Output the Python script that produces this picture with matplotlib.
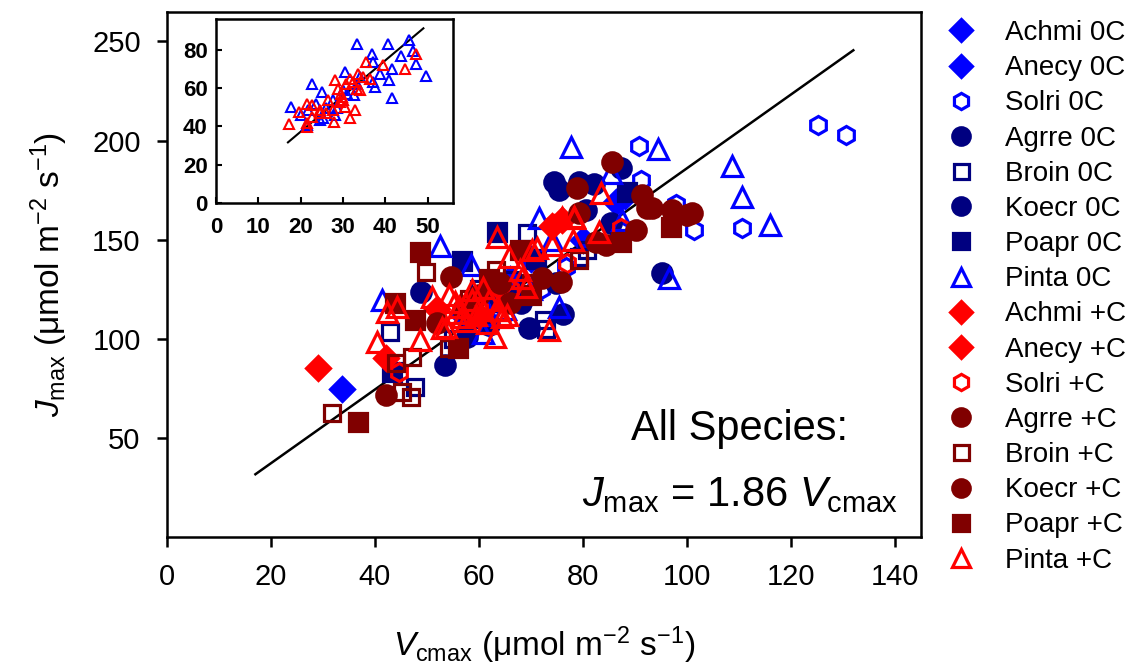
import numpy as np
import matplotlib
matplotlib.use("Agg")
import matplotlib.pyplot as plt

plt.rcParams['font.family'] = ['Liberation Sans', 'DejaVu Sans']
plt.rcParams['mathtext.fontset'] = 'custom'
plt.rcParams['mathtext.rm'] = 'Liberation Sans'
plt.rcParams['mathtext.it'] = 'Liberation Sans:italic'
plt.rcParams['axes.unicode_minus'] = False

# --- data (Vcmax, Jmax) ---
achmi_0 = [(33.6, 74.7), (86.4, 169), (62, 124), (70, 140)]
anecy_0 = [(88, 172), (57, 112), (66, 130), (80, 150)]
solri_0 = [(125.3, 208), (130.5, 203), (110.6, 156), (101.3, 155), (97.9, 168),
           (90.8, 197), (91.2, 180), (87, 155), (76.8, 136), (72, 125)]
agrre_0 = [(74.5, 179), (75.4, 175), (79.3, 179), (82.1, 178), (87.3, 186),
           (48.9, 123.7), (53.4, 86.9), (69.7, 105.6)]
broin_0 = [(42.8, 103.5), (47.6, 75.8), (69.3, 153.5), (72.9, 105), (66.4, 129.8),
           (79.3, 141), (72.6, 109.6), (80.8, 145), (58, 110), (62, 118), (60, 125), (55, 100)]
koecr_0 = [(80.6, 165), (85.4, 158.6), (95.2, 133), (76.2, 112.5), (74.9, 128),
           (57.6, 101), (62, 107), (64, 120), (68, 118)]
poapr_0 = [(63.5, 154), (56.8, 139), (43.2, 83.3), (88.5, 174), (66, 122), (71, 140)]
pinta_0 = [(94.4, 195.5), (108.6, 187), (110.6, 171.7), (115.9, 157.6), (77.7, 196.5),
           (85.4, 183.8), (96.5, 130.8), (75.4, 116), (87.5, 160), (52.5, 147),
           (41.3, 119.7), (58.5, 137.4), (71.6, 161), (60.7, 103), (65, 115),
           (70, 125), (62, 112), (74, 150)]
achmi_c = [(29, 85.4), (63.9, 126), (58, 118)]
anecy_c = [(42.2, 90.4), (76, 160), (74, 157), (52, 115), (60, 112)]
solri_c = [(44.7, 83), (77, 138), (74.5, 158), (87.3, 156), (60, 115), (66, 125)]
agrre_c = [(42.2, 71.7), (54.7, 131), (75.8, 128.8), (72.2, 130.8), (92.3, 166),
           (97.1, 165), (100, 162.6), (85.6, 189)]
broin_c = [(31.7, 62.6), (49.9, 133.8), (44.1, 87.9), (45.1, 73.2), (47, 70.7),
           (47.2, 90.9), (79.3, 139.9), (63.3, 134.8), (54.3, 95.5), (70, 128), (58, 120)]
koecr_c = [(82.5, 149), (84.5, 147.5), (90.2, 155), (79.3, 163.6), (78.9, 176),
           (91.4, 172.7), (93.3, 166), (101, 163.6), (60, 122), (64, 128), (66, 118),
           (52, 108), (57, 115)]
poapr_c = [(36.7, 58), (48.6, 144), (43.8, 118), (47.6, 109.6), (55.9, 95.5),
           (67.8, 145), (96.9, 156.6), (87.3, 149), (62, 130), (70, 122)]
pinta_c = [(40.3, 98.5), (42.4, 113.6), (44.3, 116), (48.6, 99.5), (50.9, 121),
           (52.8, 105.6), (55.3, 118.7), (58.7, 119.7), (60.7, 114.6), (63.3, 114.6),
           (64.5, 111), (63, 101), (65.8, 141), (67.8, 134.8), (68.3, 130.8), (69, 126),
           (70.2, 145), (74.1, 147.5), (73.5, 104.5), (63.5, 151.5), (71.2, 146),
           (78.3, 161), (83.1, 154), (76, 161), (78, 150), (54.3, 122), (56.2, 116),
           (58.7, 124.7), (60.7, 125.8), (62, 119.7), (63.9, 114.6), (53.7, 106),
           (56.8, 111), (65.3, 112), (83.5, 173.7), (78.3, 161.6), (57.5, 109),
           (59.5, 112), (61.5, 108), (55.5, 113)]

# inset (Pinta only)
inset_0 = [(33.4, 83.2), (40.6, 83.2), (45.6, 85.2), (46.5, 79.3), (47.3, 72.4),
           (49.7, 66.3), (43.6, 76.7), (41.5, 70.1), (40.8, 64), (41.5, 55),
           (36.9, 78), (37.1, 73.6), (37.5, 60.3), (38.7, 67.5), (37.1, 63.2),
           (32.6, 56.3), (33.2, 62.3), (30.4, 68.4), (31, 57.1), (25.1, 58),
           (22.6, 62.3), (23.7, 51.9), (21.8, 48.4), (17.7, 50.2), (20.2, 45.8),
           (26.1, 49.3), (27.7, 53.6), (28.1, 45.8), (25.3, 44.1), (24.5, 43.3),
           (21.4, 40.6), (28.5, 49.3), (30, 58.9), (34, 65.8)]
inset_c = [(17.3, 41.1), (19.6, 47.6), (21.4, 51.9), (22.6, 51), (21.4, 41.5),
           (24.5, 48.4), (26.5, 53.6), (27.9, 42.3), (28.1, 64.1), (28.9, 59.7),
           (29.7, 55.4), (30, 53.6), (30.4, 50.2), (29.2, 52.8), (30.8, 62.3),
           (31.6, 64.9), (32.4, 63.2), (33.6, 67.5), (34, 58.9), (32.8, 48.4),
           (31.6, 44.1), (35.5, 73.6), (36.3, 64.9), (39.5, 71.9), (44.6, 70.1),
           (47.3, 78), (27.7, 48.4), (24.5, 46.7), (26.1, 46.7), (22.6, 45),
           (21.4, 39.8), (29.6, 57.1), (33.2, 59.7), (34.8, 65.8)]

slope = 1.86
fit_x = [17, 132]
inset_fit_x = [17, 49]

blue, navy, red, maroon = '#0000FF', '#000080', '#FF0000', '#800000'

# label, data, marker, color, filled, size
series = [
    ('Achmi 0C', achmi_0, 'D', blue, True, 12),
    ('Anecy 0C', anecy_0, 'D', blue, True, 12),
    ('Solri 0C', solri_0, 'h', blue, False, 13),
    ('Agrre 0C', agrre_0, 'o', navy, True, 14),
    ('Broin 0C', broin_0, 's', navy, False, 12),
    ('Koecr 0C', koecr_0, 'o', navy, True, 14),
    ('Poapr 0C', poapr_0, 's', navy, True, 13),
    ('Pinta 0C', pinta_0, '^', blue, False, 14),
    ('Achmi +C', achmi_c, 'D', red, True, 12),
    ('Anecy +C', anecy_c, 'D', red, True, 12),
    ('Solri +C', solri_c, 'h', red, False, 13),
    ('Agrre +C', agrre_c, 'o', maroon, True, 14),
    ('Broin +C', broin_c, 's', maroon, False, 12),
    ('Koecr +C', koecr_c, 'o', maroon, True, 14),
    ('Poapr +C', poapr_c, 's', maroon, True, 13),
    ('Pinta +C', pinta_c, '^', red, False, 14),
]

fig = plt.figure(figsize=(11.44, 6.67), dpi=100)
ax = fig.add_axes([0.146, 0.195, 0.659, 0.7875])

ax.plot(fit_x, [slope * v for v in fit_x], color='black', lw=1.8, zorder=2)

for lab, pts, mk, col, filled, ms in series:
    a = np.array(pts)
    ax.plot(a[:, 0], a[:, 1], ls='none', marker=mk, ms=ms, mew=2.3,
            mec=col, mfc=col if filled else 'none', label=lab, zorder=3)

ax.set_xlim(0, 145)
ax.set_ylim(0, 265)
ax.set_xticks(np.arange(0, 141, 20))
ax.set_yticks(np.arange(50, 251, 50))
ax.tick_params(direction='out', length=7, width=1.8, labelsize=21, pad=12)
for s in ax.spines.values():
    s.set_linewidth(1.8)

ax.set_xlabel(r'$V_{\mathrm{cmax}}$ ($\mathrm{\mu}$mol m$^{\mathrm{-2}}$ s$^{\mathrm{-1}}$)',
              fontsize=24, labelpad=24)
ax.set_ylabel(r'$J_{\mathrm{max}}$ ($\mathrm{\mu}$mol m$^{\mathrm{-2}}$ s$^{\mathrm{-1}}$)',
              fontsize=24, labelpad=16)

ax.text(0.76, 0.205, 'All Species:', transform=ax.transAxes, fontsize=30, ha='center', va='center')
ax.text(0.76, 0.08, r'$J_{\mathrm{max}}$ = 1.86 $V_{\mathrm{cmax}}$', transform=ax.transAxes,
        fontsize=30, ha='center', va='center')

leg = ax.legend(loc='upper left', bbox_to_anchor=(1.02, 1.005), frameon=False, fontsize=20,
                handlelength=1.0, handletextpad=1.1, labelspacing=0.33, borderaxespad=0,
                markerscale=0.9)

# inset
ins = fig.add_axes([0.1888, 0.6957, 0.2072, 0.2758])
ins.plot(inset_fit_x, [slope * v for v in inset_fit_x], color='black', lw=1.5, zorder=2)
a0 = np.array(inset_0)
ac = np.array(inset_c)
ins.plot(a0[:, 0], a0[:, 1], ls='none', marker='^', ms=7, mew=1.5, mec=blue, mfc='none', zorder=3)
ins.plot(ac[:, 0], ac[:, 1], ls='none', marker='^', ms=7, mew=1.5, mec=red, mfc='none', zorder=3)
ins.set_xlim(0, 56)
ins.set_ylim(0, 96)
ins.set_xticks(np.arange(0, 51, 10))
ins.set_yticks(np.arange(0, 81, 20))
ins.tick_params(direction='in', length=4, width=1.5, labelsize=16, pad=6)
ins.tick_params(axis='x', pad=10)
for t in ins.get_xticklabels() + ins.get_yticklabels():
    t.set_fontweight('bold')
for s in ins.spines.values():
    s.set_linewidth(1.8)

fig.savefig('out.png', dpi=100)
